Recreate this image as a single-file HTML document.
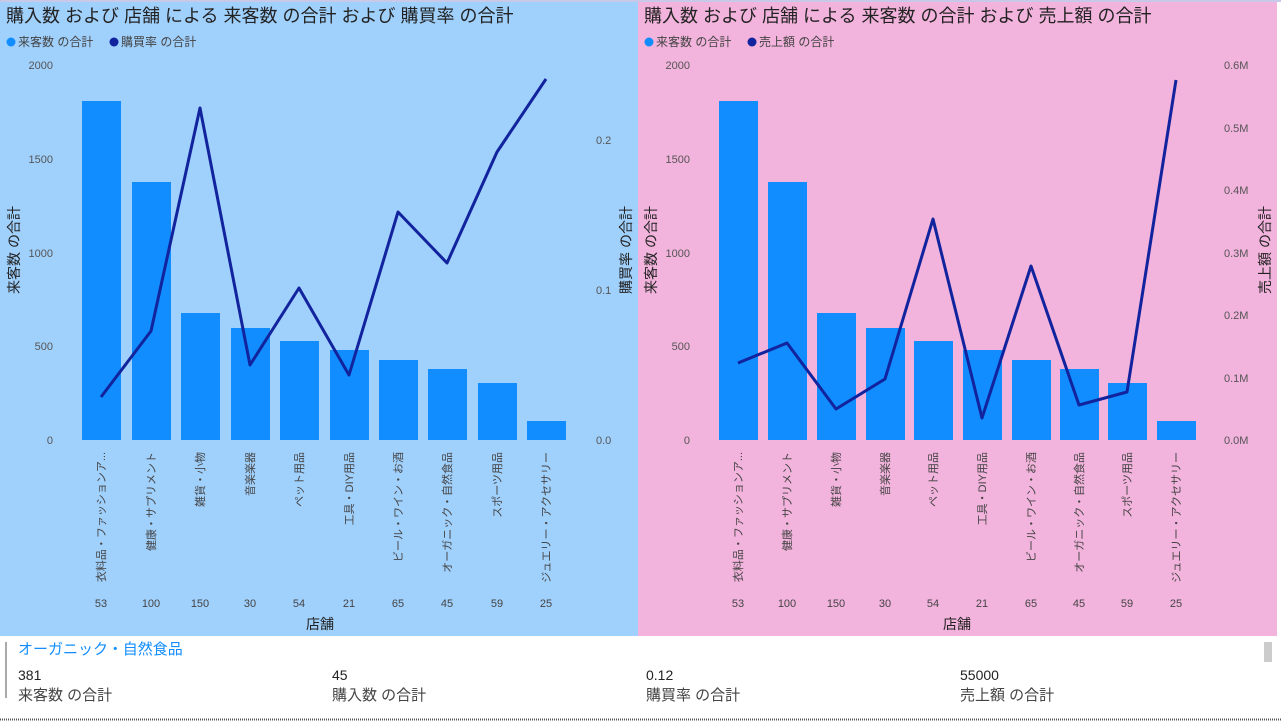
<!DOCTYPE html>
<html><head><meta charset="utf-8"><style>
body{margin:0;width:1281px;height:725px;overflow:hidden;background:#fff;font-family:"Liberation Sans","Noto Sans CJK JP",sans-serif;}
</style></head><body>
<svg width="1281" height="725" style="position:absolute;left:0;top:0" font-family="Liberation Sans, Noto Sans CJK JP, sans-serif">
<rect x="0" y="0" width="638" height="636" fill="#a0d0fc"/>
<rect x="638" y="0" width="639" height="636" fill="#f2b3dc"/>
<rect x="0" y="0" width="1281" height="2" fill="#c8c8e8"/>
<g id="L">
<text x="6" y="22" font-size="18" fill="#222">購入数 および 店舗 による 来客数 の合計 および 購買率 の合計</text>
<circle cx="11" cy="42" r="4.5" fill="#118dff"/><text x="18" y="46" font-size="12" fill="#444">来客数 の合計</text>
<circle cx="114" cy="42" r="4.5" fill="#12239e"/><text x="121" y="46" font-size="12" fill="#444">購買率 の合計</text>
<g font-size="11" fill="#555" text-anchor="end">
<text x="53" y="69">2000</text><text x="53" y="163">1500</text><text x="53" y="257">1000</text><text x="53" y="350">500</text><text x="53" y="444">0</text>
</g>
<g font-size="11" fill="#555">
<text x="596" y="144">0.2</text><text x="596" y="294">0.1</text><text x="596" y="444">0.0</text>
</g>
<text transform="translate(19,250) rotate(-90)" font-size="14" fill="#222" text-anchor="middle">来客数 の合計</text>
<text transform="translate(631,250) rotate(-90)" font-size="14" fill="#222" text-anchor="middle">購買率 の合計</text>
<g fill="#118dff">
<rect x="82" y="101" width="39" height="339"/><rect x="132" y="182" width="39" height="258"/><rect x="181" y="313" width="39" height="127"/><rect x="231" y="328" width="39" height="112"/><rect x="280" y="341" width="39" height="99"/><rect x="330" y="350" width="39" height="90"/><rect x="379" y="360" width="39" height="80"/><rect x="428" y="369" width="39" height="71"/><rect x="478" y="383" width="39" height="57"/><rect x="527" y="421" width="39" height="19"/>
</g>
<polyline points="101,397 151,331 200,108 250,365 299,288 349,375 398,212 447,263 497,152 546,79" fill="none" stroke="#12239e" stroke-width="3" stroke-linejoin="round"/>
<g font-size="11" fill="#444" text-anchor="end">
<text transform="translate(105,452) rotate(-90)">衣料品・ファッションア...</text>
<text transform="translate(155,452) rotate(-90)">健康・サプリメント</text>
<text transform="translate(204,452) rotate(-90)">雑貨・小物</text>
<text transform="translate(254,452) rotate(-90)">音楽楽器</text>
<text transform="translate(303,452) rotate(-90)">ペット用品</text>
<text transform="translate(353,452) rotate(-90)">工具・DIY用品</text>
<text transform="translate(402,452) rotate(-90)">ビール・ワイン・お酒</text>
<text transform="translate(451,452) rotate(-90)">オーガニック・自然食品</text>
<text transform="translate(501,452) rotate(-90)">スポーツ用品</text>
<text transform="translate(550,452) rotate(-90)">ジュエリー・アクセサリー</text>
</g>
<g font-size="11" fill="#444" text-anchor="middle">
<text x="101" y="607">53</text><text x="151" y="607">100</text><text x="200" y="607">150</text><text x="250" y="607">30</text><text x="299" y="607">54</text><text x="349" y="607">21</text><text x="398" y="607">65</text><text x="447" y="607">45</text><text x="497" y="607">59</text><text x="546" y="607">25</text>
</g>
<text x="320" y="629" font-size="14" fill="#222" text-anchor="middle">店舗</text>
</g>
<g>
<text x="644" y="22" font-size="18" fill="#222">購入数 および 店舗 による 来客数 の合計 および 売上額 の合計</text>
<circle cx="649" cy="42" r="4.5" fill="#118dff"/><text x="656" y="46" font-size="12" fill="#444">来客数 の合計</text>
<circle cx="752" cy="42" r="4.5" fill="#12239e"/><text x="759" y="46" font-size="12" fill="#444">売上額 の合計</text>
<g font-size="11" fill="#555" text-anchor="end">
<text x="690" y="69">2000</text><text x="690" y="163">1500</text><text x="690" y="257">1000</text><text x="690" y="350">500</text><text x="690" y="444">0</text>
</g>
<g font-size="11" fill="#555">
<text x="1224" y="69">0.6M</text><text x="1224" y="132">0.5M</text><text x="1224" y="194">0.4M</text><text x="1224" y="257">0.3M</text><text x="1224" y="319">0.2M</text><text x="1224" y="382">0.1M</text><text x="1224" y="444">0.0M</text>
</g>
<text transform="translate(656,250) rotate(-90)" font-size="14" fill="#222" text-anchor="middle">来客数 の合計</text>
<text transform="translate(1270,250) rotate(-90)" font-size="14" fill="#222" text-anchor="middle">売上額 の合計</text>
<g fill="#118dff">
<rect x="719" y="101" width="39" height="339"/><rect x="768" y="182" width="39" height="258"/><rect x="817" y="313" width="39" height="127"/><rect x="866" y="328" width="39" height="112"/><rect x="914" y="341" width="39" height="99"/><rect x="963" y="350" width="39" height="90"/><rect x="1012" y="360" width="39" height="80"/><rect x="1060" y="369" width="39" height="71"/><rect x="1108" y="383" width="39" height="57"/><rect x="1157" y="421" width="39" height="19"/>
</g>
<polyline points="738,363 787,343 836,409 885,379 933,219 982,418 1031,266 1079,405 1127,392 1176,80" fill="none" stroke="#12239e" stroke-width="3" stroke-linejoin="round"/>
<g font-size="11" fill="#444" text-anchor="end">
<text transform="translate(742,452) rotate(-90)">衣料品・ファッションア...</text>
<text transform="translate(791,452) rotate(-90)">健康・サプリメント</text>
<text transform="translate(840,452) rotate(-90)">雑貨・小物</text>
<text transform="translate(889,452) rotate(-90)">音楽楽器</text>
<text transform="translate(937,452) rotate(-90)">ペット用品</text>
<text transform="translate(986,452) rotate(-90)">工具・DIY用品</text>
<text transform="translate(1035,452) rotate(-90)">ビール・ワイン・お酒</text>
<text transform="translate(1083,452) rotate(-90)">オーガニック・自然食品</text>
<text transform="translate(1131,452) rotate(-90)">スポーツ用品</text>
<text transform="translate(1180,452) rotate(-90)">ジュエリー・アクセサリー</text>
</g>
<g font-size="11" fill="#444" text-anchor="middle">
<text x="738" y="607">53</text><text x="787" y="607">100</text><text x="836" y="607">150</text><text x="885" y="607">30</text><text x="933" y="607">54</text><text x="982" y="607">21</text><text x="1031" y="607">65</text><text x="1079" y="607">45</text><text x="1127" y="607">59</text><text x="1176" y="607">25</text>
</g>
<text x="957" y="629" font-size="14" fill="#222" text-anchor="middle">店舗</text>
</g>
<rect x="5" y="642" width="2" height="56" fill="#aaa"/>
<rect x="1264" y="642" width="8" height="20" fill="#ccc"/>
<text x="18" y="654" font-size="15" fill="#118dff">オーガニック・自然食品</text>
<g font-size="14" fill="#222">
<text x="18" y="680">381</text><text x="332" y="680">45</text><text x="646" y="680">0.12</text><text x="960" y="680">55000</text>
</g>
<g font-size="15" fill="#444">
<text x="18" y="700">来客数 の合計</text><text x="332" y="700">購入数 の合計</text><text x="646" y="700">購買率 の合計</text><text x="960" y="700">売上額 の合計</text>
</g>
<line x1="0" y1="719.5" x2="1281" y2="719.5" stroke="#555" stroke-width="2" stroke-dasharray="1,1"/>
</svg>
</body></html>
